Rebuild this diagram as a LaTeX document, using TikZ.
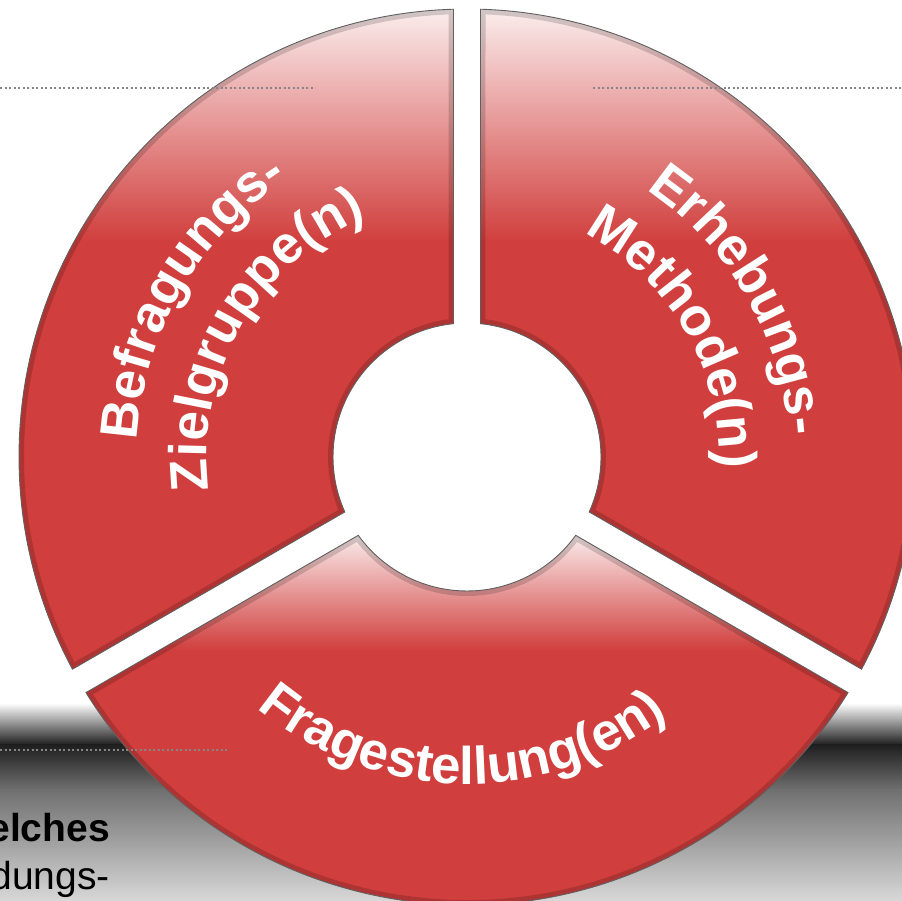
\documentclass[tikz,border=0pt]{standalone}
\usepackage{fontspec}
\setmainfont{Liberation Sans}
\usetikzlibrary{decorations.text}
\definecolor{segred}{HTML}{D03F3D}
\definecolor{seglight}{HTML}{FBEDED}
\definecolor{dotgray}{HTML}{858585}
\definecolor{bandA}{HTML}{1E1E1E}
\definecolor{bandB}{HTML}{707070}
\definecolor{bandC}{HTML}{A8A8A8}
\definecolor{bandD}{HTML}{D8D8D8}
\newcommand{\segfont}{\fontsize{53pt}{60pt}\selectfont\bfseries}
\newcommand{\ringseg}[2]{({#1+1.727}:448pt) arc[start angle={#1+1.727}, end angle={#2-1.727}, radius=448pt] -- ({#2-5.78}:134pt) arc[start angle={#2-5.78}, end angle={#1+5.78}, radius=134pt] -- cycle}
\tikzset{
  dotline/.style={dotgray, line width=2.2pt, dash pattern=on 2pt off 2.5pt},
  segedge/.style={draw=gray!75!black, line width=0.9pt},
  bevel/.style={black, opacity=0.16, line width=10pt},
  arctext/.style={decorate, decoration={text along path, text align=center, text color=white, text={#1}}}
}
\begin{document}
\begin{tikzpicture}
\useasboundingbox (0,0) rectangle (902pt,901pt);
\clip (0,0) rectangle (902pt,901pt);
\fill[white] (0,0) rectangle (902pt,901pt);
% background band
\shade[top color=white, bottom color=bandA] (0,156pt) rectangle (902pt,198pt);
\shade[top color=bandA, bottom color=bandB] (0,111pt) rectangle (902pt,156.5pt);
\shade[top color=bandB, bottom color=bandC] (0,51pt) rectangle (902pt,111.5pt);
\shade[top color=bandC, bottom color=bandD] (0,0) rectangle (902pt,51.5pt);
% partial texts lower left
\node[anchor=base east, inner sep=0pt, font=\fontsize{39pt}{40pt}\selectfont\bfseries] (w1) at (110pt,59pt) {elches};
\node[anchor=base east, inner sep=0pt, font=\fontsize{39pt}{40pt}\selectfont] (w2) at (110pt,11pt) {dungs-};
% segment left (90..210)
\begin{scope}
  \clip[shift={(467pt,444pt)}] \ringseg{90}{210};
  \fill[segred] (0,0) rectangle (902pt,661pt);
  \shade[top color=seglight, bottom color=segred] (0,660pt) rectangle (902pt,892pt);
  \draw[bevel, shift={(467pt,444pt)}] \ringseg{90}{210};
\end{scope}
\draw[segedge, shift={(467pt,444pt)}] \ringseg{90}{210};
% segment right (-30..90)
\begin{scope}
  \clip[shift={(467pt,444pt)}] \ringseg{-30}{90};
  \fill[segred] (0,0) rectangle (902pt,661pt);
  \shade[top color=seglight, bottom color=segred] (0,660pt) rectangle (902pt,892pt);
  \draw[bevel, shift={(467pt,444pt)}] \ringseg{-30}{90};
\end{scope}
\draw[segedge, shift={(467pt,444pt)}] \ringseg{-30}{90};
% segment bottom (210..330)
\begin{scope}
  \clip[shift={(467pt,444pt)}] \ringseg{210}{330};
  \fill[segred] (0,0) rectangle (902pt,252pt);
  \shade[top color=seglight, bottom color=segred] (0,251pt) rectangle (902pt,367pt);
  \fill[seglight] (0,366.5pt) rectangle (902pt,400pt);
  \draw[bevel, shift={(467pt,444pt)}] \ringseg{210}{330};
\end{scope}
\draw[segedge, shift={(467pt,444pt)}] \ringseg{210}{330};
% curved labels
\coordinate (c) at (467pt,444pt);
\path[arctext={|\segfont|Befragungs-}] (c) ++(210:330pt) arc[start angle=210, end angle=90, radius=330pt];
\path[arctext={|\segfont|Zielgruppe(n)}] (c) ++(210:260pt) arc[start angle=210, end angle=90, radius=260pt];
\path[arctext={|\segfont|Erhebungs-}] (c) ++(90:322pt) arc[start angle=90, end angle=-30, radius=322pt];
\path[arctext={|\segfont|Methode(n)}] (c) ++(90:252pt) arc[start angle=90, end angle=-30, radius=252pt];
\path[arctext={|\segfont|Fragestellung(en)}] (c) ++(209:327pt) arc[start angle=209, end angle=329, radius=327pt];
% dotted lines
\coordinate (d1a) at (0,813pt); \coordinate (d1b) at (315pt,813pt);
\coordinate (d2a) at (593pt,813pt); \coordinate (d2b) at (902pt,813pt);
\coordinate (d3a) at (0,151pt); \coordinate (d3b) at (227pt,151pt);
\draw[dotline] (d1a) -- (d1b);
\draw[dotline] (d2a) -- (d2b);
\draw[dotline] (d3a) -- (d3b);
\end{tikzpicture}
\end{document}
